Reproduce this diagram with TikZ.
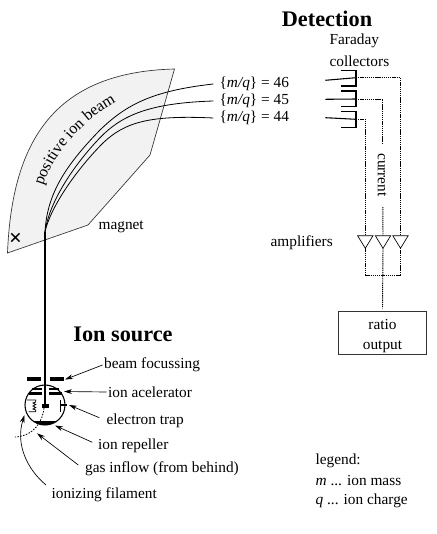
\documentclass[tikz,border=0pt]{standalone}
\usepackage{fontspec}
\setmainfont{Liberation Serif}
\usetikzlibrary{arrows.meta,decorations.text}
\definecolor{magnetgray}{HTML}{F2F2F2}
\definecolor{edgegray}{HTML}{333333}
\newcommand{\labelfont}{\fontsize{11.5}{14}\selectfont}
\tikzset{
  lbl/.style={anchor=west, inner sep=1pt, font=\labelfont},
  heading/.style={inner sep=0pt, font=\fontsize{16.7}{20}\selectfont\bfseries},
  pointer/.style={-{Stealth[length=6pt,width=3.6pt]}, line width=0.5pt},
  signal/.style={line width=0.7pt, dash pattern=on 1pt off 0.6pt},
  beamline/.style={line width=0.6pt},
  collector/.style={line width=0.8pt},
  plate/.style={line width=2.1pt},
  amp/.style={line width=0.5pt, fill=white}
}
\begin{document}
\begin{tikzpicture}[x=0.75pt,y=-0.75pt]
\useasboundingbox (0,0) rectangle (436,534);
% magnet
\draw[fill=magnetgray, line width=0.5pt, draw=edgegray] (7.5,253) .. controls (12,140) and (55,72) .. (174.5,69)
  -- (150,155) -- (88,225) -- cycle;
\path[decorate, decoration={text along path, text align=left, text={|\fontsize{12}{14}\selectfont|positive ion beam}}]
  (43,186) .. controls (52,157) and (80,121) .. (120,100);
\node[inner sep=0pt, font=\fontsize{17}{17}\selectfont\bfseries] (cross) at (15.5,239) {×};
\node[lbl] (magnet) at (97,227) {magnet};
% mass labels
\node[lbl] (m46) at (218,84) {\{\textit{m/q}\} = 46};
\node[lbl] (m45) at (218,101) {\{\textit{m/q}\} = 45};
\node[lbl] (m44) at (218,118) {\{\textit{m/q}\} = 44};
% ion beams
\coordinate (stem) at (45,232);
\coordinate (src) at (45,405);
\draw[line width=1.5pt] (src) -- (stem);
\draw[beamline] (stem) .. controls (47,195) and (64,167) .. (100,130) .. controls (125,106) and (150,91) .. ([xshift=-3.5pt]m46.west);
\draw[beamline] (stem) .. controls (49,203) and (72,167) .. (100,137.7) .. controls (122,115) and (150,103) .. ([xshift=-3.5pt]m45.west);
\draw[beamline] (stem) .. controls (50,208) and (76,170) .. (103,143) .. controls (125,122) and (150,115) .. ([xshift=-3.5pt]m44.west);
% detection
\node[heading] (detection) at (327,19) {Detection};
\node[lbl] (faraday) at (328,41) {Faraday};
\node[lbl] (collectors) at (328,61) {collectors};
\foreach \yy/\ya/\yb in {46/80.3/77.7, 45/99.3/99, 44/117.7/119.3}{
  \coordinate (in\yy) at (325.3,\ya);
  \coordinate (out\yy) at (356,\yb);
  \draw[collector] (in\yy) -- (out\yy);
}
\draw[collector] (340.5,70.7) -- (356,70.7) -- (356,86) -- (340.5,86);
\draw[collector] (340.5,91) -- (356,91) -- (356,106.7) -- (340.5,106.7);
\draw[collector] (340.5,111.7) -- (356,111.7) -- (356,127.3) -- (340.5,127.3);
% amplifiers
\foreach \nm/\xx in {a/365.3, b/383, c/400.5}{
  \coordinate (\nm top) at (\xx,235.7);
  \coordinate (\nm tip) at (\xx,248.3);
}
\node[lbl] (amplifiers) at (269,243) {amplifiers};
\node[inner sep=1pt, rotate=-90, font=\labelfont] (current) at (382,175) {current};
\draw[signal] (out46) -| (ctop);
\draw[signal] (out45) -| (382.8,143);
\draw[signal] (out44) -| (atop);
\draw[signal] (382.8,207) -- (btop);
\foreach \nm/\xx in {a/365.3, b/383, c/400.5}{
  \draw[amp] (\xx-7.7,235.7) -- (\xx+7.7,235.7) -- (\xx,248.3) -- cycle;
}
\node[draw=edgegray, line width=0.75pt, minimum width=66pt, minimum height=32.5pt, inner sep=0pt,
  align=center, font=\labelfont] (ratio) at (382.5,333.3) {\rule{0pt}{13.4pt}ratio\\[1pt]output\rule[-4.1pt]{0pt}{4.1pt}};
\draw[signal] (atip) -- (365.3,275) -- (400.5,275) -- (ctip);
\draw[signal] (btip) -- ([yshift=2pt]ratio.north);
% ion source
\node[heading] (source) at (123,334) {Ion source};
\draw[line width=0.8pt] (src) circle (20);
\begin{scope}
  \clip (src) circle (20);
  \fill (25,420.5) rectangle (65,426);
\end{scope}
\fill (41.7,404) rectangle (49.3,408);
\draw[line width=2.6pt] (27,379) -- (41,379);
\draw[line width=2.6pt] (50,379) -- (64,379);
\coordinate (focus) at (65,379.5);
\draw[plate] (31.7,389) -- (41.7,389);
\draw[plate] (29,393.3) -- (41.7,393.3);
\draw[plate] (49.3,389) -- (59.3,389);
\draw[plate] (49.3,393.3) -- (61.7,393.3);
\coordinate (accel) at (64,391.5);
\draw[line width=1.3pt] (60.5,400) -- (60.5,411.7);
\draw[line width=1.3pt] (60.5,405) -- (66.7,405);
\coordinate (trap) at (69,405);
\coordinate (repel) at (55,425.5);
\coordinate (gas) at (37,433.3);
\coordinate (fil) at (24.5,415);
% filament
\draw[line width=0.6pt] (27,400) -- (35.7,400) -- (35.7,402) -- (33,403) -- (35.7,404.5) -- (33,406) -- (35.7,407.5) -- (33,409) -- (35.7,410) -- (35.7,411.7) -- (28.5,411.7);
% gas inlet
\draw[line width=0.6pt, dash pattern=on 1.2pt off 1pt] (44,408) .. controls (43,420) and (35,436) .. (15,437);
% source labels
\node[lbl] (lfocus) at (102.5,365) {beam focussing};
\node[lbl] (laccel) at (106.5,392) {ion acelerator};
\node[lbl] (ltrap) at (105,420.5) {electron trap};
\node[lbl] (lrepel) at (96.5,445.5) {ion repeller};
\node[lbl] (lgas) at (83.5,469) {gas inflow (from behind)};
\node[lbl] (lfil) at (50,495) {ionizing filament};
\draw[pointer] (lfocus.west) -- (focus);
\draw[pointer] (laccel.west) -- (accel);
\draw[pointer] (99.3,417.7) -- (trap);
\draw[pointer] (92.3,442.3) -- (repel);
\draw[pointer] (78.3,465) -- (gas);
\draw[pointer] (46,485) .. controls (28,470) and (15,445) .. (fil);
% legend
\node[lbl] (legend) at (314,461) {legend:};
\node[lbl] (lm) at (314,481) {\textit{m} ... ion mass};
\node[lbl] (lq) at (314,501) {\textit{q} ... ion charge};
\end{tikzpicture}
\end{document}
